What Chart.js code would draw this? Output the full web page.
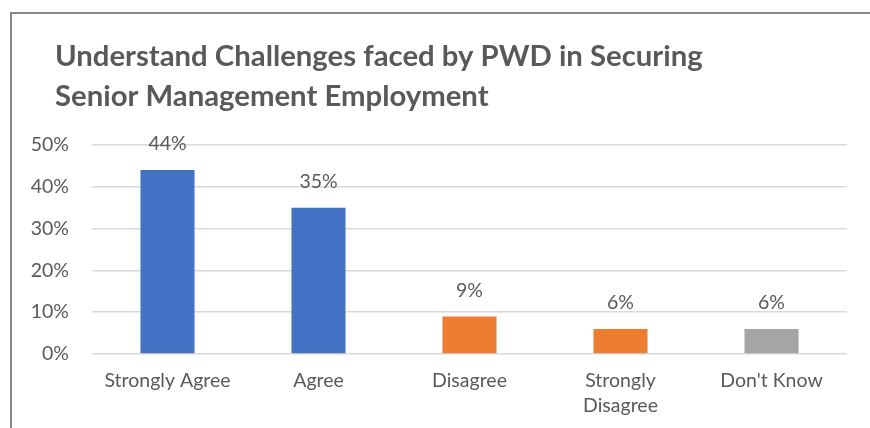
<!DOCTYPE html>
<html>
<head>
<meta charset="utf-8">
<script src="https://cdn.jsdelivr.net/npm/chart.js@4.4.0/dist/chart.umd.min.js"></script>
<style>
  html, body { margin: 0; padding: 0; background: #fff; }
  #wrap { position: relative; width: 870px; height: 428px; overflow: hidden; }
  #frame { position: absolute; left: 10px; top: 12px; width: 900px; height: 500px;
           border: 2px solid #898989; box-sizing: border-box; }
  canvas { position: absolute; left: 0; top: 0; }
</style>
</head>
<body>
<div id="wrap">
  <div id="frame"></div>
  <canvas id="chart" width="870" height="428"></canvas>
</div>
<script>
const titleLines = ['Understand Challenges faced by PWD in Securing', 'Senior Management Employment'];
const categories = ['Strongly Agree', 'Agree', 'Disagree', ['Strongly', 'Disagree'], "Don't Know"];
const values = [44, 35, 9, 6, 6];
const barColors = ['#4472C4', '#4472C4', '#ED7D31', '#ED7D31', '#A5A5A5'];
const yTicks = [0, 10, 20, 30, 40, 50];

const textColor = '#595959';
const fontFamily = 'Lato, "Open Sans", sans-serif';

const titlePlugin = {
  id: 'leftTitle',
  afterDraw(chart) {
    const ctx = chart.ctx;
    ctx.save();
    ctx.fillStyle = textColor;
    ctx.font = 'bold 29.3px ' + fontFamily;
    ctx.textBaseline = 'middle';
    ctx.textAlign = 'left';
    titleLines.forEach((line, i) => ctx.fillText(line, 55, 57 + i * 40));
    ctx.restore();
  }
};

const labelPlugin = {
  id: 'barLabels',
  afterDatasetsDraw(chart) {
    const ctx = chart.ctx;
    const meta = chart.getDatasetMeta(0);
    ctx.save();
    ctx.fillStyle = textColor;
    ctx.font = '19.5px ' + fontFamily;
    ctx.textAlign = 'center';
    ctx.textBaseline = 'middle';
    meta.data.forEach((bar, i) => {
      ctx.fillText(values[i] + '%', bar.x, bar.y - 26);
    });
    ctx.restore();
  }
};

new Chart(document.getElementById('chart'), {
  type: 'bar',
  data: {
    labels: categories,
    datasets: [{
      data: values,
      backgroundColor: barColors,
      categoryPercentage: 1,
      barPercentage: 0.358
    }]
  },
  options: {
    responsive: false,
    animation: false,
    layout: { padding: { left: 0, top: 145, right: 23, bottom: 0 } },
    plugins: {
      legend: { display: false },
      tooltip: { enabled: false }
    },
    scales: {
      y: {
        min: 0,
        max: 50,
        afterFit(scale) { scale.width = 92; },
        afterBuildTicks(scale) { scale.ticks = yTicks.map(v => ({ value: v })); },
        border: { display: false },
        grid: { color: '#D9D9D9', lineWidth: 1.5, drawTicks: false },
        ticks: {
          color: textColor,
          font: { family: fontFamily, size: 19.5 },
          padding: 23,
          callback: v => v + '%'
        }
      },
      x: {
        afterFit(scale) { scale.height = 74; },
        border: { display: false },
        grid: { display: false, drawTicks: false },
        ticks: {
          color: textColor,
          font: { family: fontFamily, size: 19.5, lineHeight: 1.28 },
          padding: 14,
          maxRotation: 0,
          autoSkip: false
        }
      }
    }
  },
  plugins: [titlePlugin, labelPlugin]
});
</script>
</body>
</html>
